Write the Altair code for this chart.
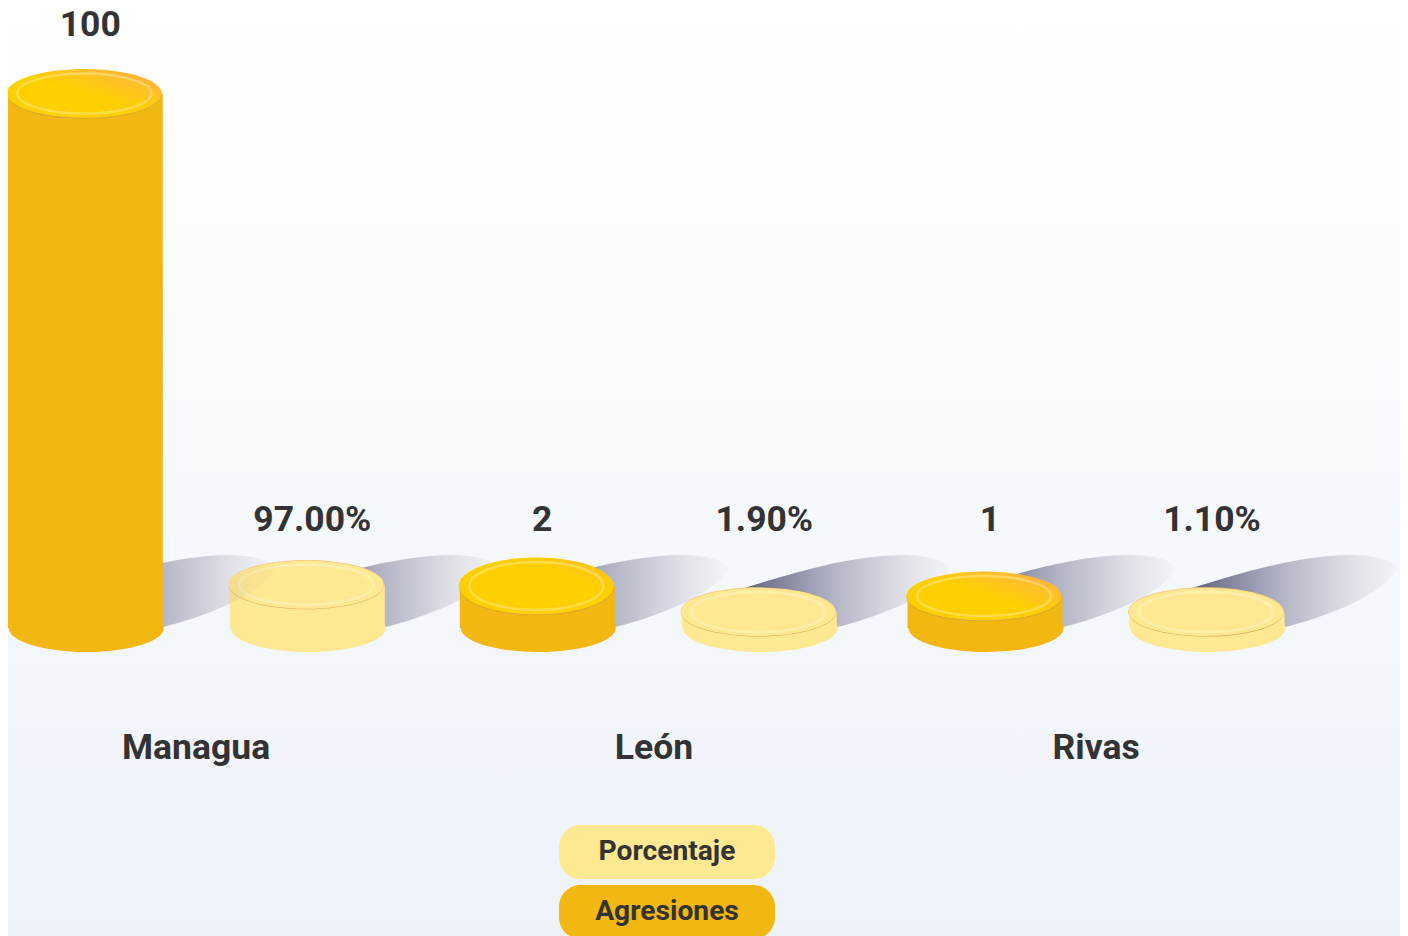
import altair as alt
import pandas as pd

departamentos = ["Managua", "León", "Rivas"]
series = ["Agresiones", "Porcentaje"]
agresiones = [100, 2, 1]
porcentaje = [97.0, 1.9, 1.1]
# Drawn heights of the cylinders (the original uses a minimum height)
altura_agresiones = [99.9, 7.85, 5.98]
altura_porcentaje = [8.1, 3.0, 3.0]

rows = []
for i, d in enumerate(departamentos):
    rows.append(dict(departamento=d, serie="Agresiones", etiqueta=str(agresiones[i]), altura=altura_agresiones[i]))
    rows.append(dict(departamento=d, serie="Porcentaje", etiqueta=f"{porcentaje[i]:.2f}%", altura=altura_porcentaje[i]))
df = pd.DataFrame(rows)

FONT = "Roboto"
INK = "#333333"
BODY_A = "#F2B711"
BODY_P = "#FEE992"
GOLD = "#FFD000"
AJUSTE = {"Managua": 0.3, "León": 2.3, "Rivas": 0}
GRUPO = {"Agresiones": -111, "Porcentaje": 111}


def grad(stops, x1=0, y1=0, x2=1, y2=0):
    return {"gradient": "linear", "x1": x1, "y1": y1, "x2": x2, "y2": y2,
            "stops": [{"offset": o, "color": c} for o, c in stops]}


def ellipse(a, b):
    return f"M{-a},0 A{a},{b} 0 1 1 {a},0 A{a},{b} 0 1 1 {-a},0 Z"


PILL = ("M-3.2,-1 H3.2 A0.8,0.8 0 0 1 4,-0.2 V0.2 A0.8,0.8 0 0 1 3.2,1 "
        "H-3.2 A0.8,0.8 0 0 1 -4,0.2 V-0.2 A0.8,0.8 0 0 1 -3.2,-1 Z")
SHADOW = "M78,-1 C115,-10 175,-32 190,-58 C192,-68 165,-73 143,-73 C90,-72 40,-57 -15,-40 L-10,-10 Z"
LENS = "M144,-24 L144,-42.5 A77.5,24 0 0 1 186,-64 C190,-62 190,-60 190,-58 C182,-45 165,-33 144,-24 Z"
SHADOW_FILL = grad([(0, "#62647F"), (0.45, "#B5B7C7"), (0.8, "#E2E3E9"), (1, "#F3F4F7")])
LENS_FILL = grad([(0, "rgba(150,140,110,0.13)"), (1, "rgba(150,140,110,0.03)")])
FACE_STRONG = grad([(0, GOLD), (0.5, GOLD), (0.78, "#FFBE2E"), (1, "#FFA650")], 0, 1, 1, 0)
FACE_SOFT = grad([(0, GOLD), (0.68, GOLD), (1, "#FFB92E")], 0, 1, 1, 0)

yscale = alt.Scale(domain=[-57.57, 115.89], range=[928, 0], nice=False, zero=False)
x = alt.X(
    "departamento:N",
    sort=departamentos,
    title=None,
    scale=alt.Scale(domain=departamentos, range=[-37, 1313], paddingInner=0, paddingOuter=0),
    axis=alt.Axis(
        orient="bottom", offset=-206, domain=False, ticks=False, grid=False, labelAngle=0, zindex=1,
        labelFont=FONT, labelFontSize=35.5, labelFontWeight="bold", labelColor=INK, labelPadding=0,
        labelOffset={"condition": {"test": "datum.label == 'León'", "value": 8},
                     "value": 0.1},
    ),
)
color = alt.Color(
    "serie:N",
    scale=alt.Scale(domain=["Porcentaje", "Agresiones"], range=[BODY_P, BODY_A]),
    legend=alt.Legend(
        orient="none", legendX=632, legendY=817, title=None, padding=0, rowPadding=6,
        symbolType=PILL, symbolSize=2916, symbolStrokeWidth=0, symbolOpacity=1,
        labelFont=FONT, labelFontSize=28.2, labelFontWeight="bold", labelColor=INK,
        labelAlign="center", labelOffset={"expr": "-27"},
    ),
)
y_top = alt.Y("altura:Q", scale=yscale, axis=None, title=None)
y_base = alt.Y(datum=0, scale=yscale, axis=None, title=None)

base = alt.Chart(df).encode(x=x)

fondo = alt.Chart(alt.Data(values=[{"fondo": 1}])).mark_rect(
    fill=grad([(0, "#FFFFFF"), (1, "#EEF3FA")], 0, 0, 0, 1)
).encode(x=alt.value(-8), x2=alt.value(1392), y=alt.value(0), y2=alt.value(928))


def pts(chart, y, path, dx=0, dy=0, **kw):
    kw.setdefault("opacity", 1)
    return chart.mark_point(shape=path, size=4, xOffset=dx, yOffset=dy, **kw).encode(y=y)


def sel(depto, serie):
    return base.transform_filter(f"datum.departamento == '{depto}' && datum.serie == '{serie}'")


def desp(depto, serie):
    return GRUPO[serie] + AJUSTE[depto]


def sombra(depto, serie):
    return pts(sel(depto, serie), y_base, SHADOW, dx=desp(depto, serie), filled=True, fill=SHADOW_FILL)


def cuerpo(depto, serie):
    c = sel(depto, serie)
    d = desp(depto, serie)
    return [
        pts(c, y_base, ellipse(77.5, 24), dx=d + 1, filled=True).encode(color=color),
        c.mark_bar(size=155, opacity=1, xOffset=d).encode(y=y_top, y2=alt.Y2(datum=0), color=color),
    ]


def cilindro_porcentaje(depto):
    c = sel(depto, "Porcentaje")
    d = desp(depto, "Porcentaje") - 1
    return cuerpo(depto, "Porcentaje") + [
        pts(c, y_top, ellipse(77.5, 24), dx=d, dy=-0.6, filled=True, fill="#F6C67C"),
        pts(c, y_top, ellipse(77.5, 24), dx=d, dy=0.6, filled=True, fill="#D9A85E"),
        pts(c, y_top, ellipse(77.5, 24), dx=d, filled=True, fill=BODY_P),
        pts(c, y_top, ellipse(67, 20), dx=d, filled=False, stroke="#FFFFFF", strokeWidth=2.5, opacity=0.25),
    ]


def cilindro_agresiones(depto):
    c = sel(depto, "Agresiones")
    d = desp(depto, "Agresiones") - 1
    b = 28.5 if depto == "León" else 24.5
    cara = FACE_SOFT if depto == "León" else FACE_STRONG
    return cuerpo(depto, "Agresiones") + [
        pts(c, y_top, ellipse(77.5, b), dx=d, dy=0.8, filled=True, fill="#D3A23C"),
        pts(c, y_top, ellipse(77.5, b), dx=d, filled=True, fill=cara),
        pts(c, y_top, ellipse(67, b - 4.5), dx=d, filled=False, stroke="#FFF0A8", strokeWidth=2.5, opacity=0.42),
    ]


def etiqueta(depto, serie):
    return sel(depto, serie).transform_calculate(
        pos_etiqueta="datum.altura > 20 ? datum.altura + 13 : 20.4"
    ).mark_text(
        font=FONT, fontSize=35.5, fontWeight="bold", color=INK, dx=5 + desp(depto, serie), dy=1, baseline="middle"
    ).encode(y=alt.Y("pos_etiqueta:Q", scale=yscale, axis=None, title=None), text="etiqueta:N")


capas = [fondo]
for d in departamentos:
    for s in series:
        capas.append(sombra(d, s))
for d in departamentos:
    capas += cilindro_porcentaje(d)
capas.append(pts(sel("Managua", "Agresiones"), y_base, LENS, dx=desp("Managua", "Agresiones"), filled=True, fill=LENS_FILL))
for d in departamentos:
    capas += cilindro_agresiones(d)
for d in departamentos:
    for s in series:
        capas.append(etiqueta(d, s))

chart = alt.layer(*capas).properties(
    width=1392, height=928, padding=0, autosize=alt.AutoSizeParams(type="none")
).configure_view(stroke=None)

chart.save("out.html", embed_options={"renderer": "svg", "actions": False})
